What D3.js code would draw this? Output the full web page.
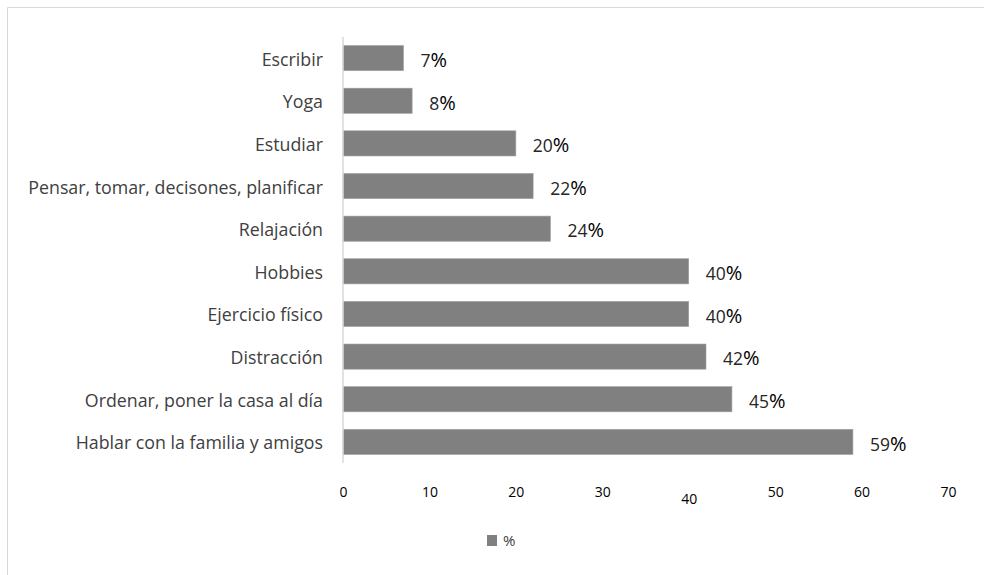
<!DOCTYPE html>
<html>
<head>
<meta charset="utf-8">
<script src="https://cdn.jsdelivr.net/npm/d3@7"></script>
<style>
  body { margin: 0; background: #fff; }
  text { font-family: "Open Sans", sans-serif; }
</style>
</head>
<body>
<svg></svg>
<script>
var screen = {width: 984, height: 575}
var margins = {top: 37, right: 36, bottom: 112, left: 343}

// data
var categories = ["Escribir", "Yoga", "Estudiar", "Pensar, tomar, decisones, planificar",
    "Relajación", "Hobbies", "Ejercicio físico", "Distracción",
    "Ordenar, poner la casa al día", "Hablar con la familia y amigos"]
var values = [7, 8, 20, 22, 24, 40, 40, 42, 45, 59]
var xTicks = [0, 10, 20, 30, 40, 50, 60, 70]
var legendLabel = "%"

var svg = d3.select("svg")
    .attr("width", screen.width)
    .attr("height", screen.height)

// light frame (top and left edges visible)
svg.append("line")
    .attr("x1", 7.5).attr("x2", screen.width).attr("y1", 7.5).attr("y2", 7.5)
    .attr("stroke", "#d9d9d9")
svg.append("line")
    .attr("x1", 7.5).attr("x2", 7.5).attr("y1", 7.5).attr("y2", screen.height)
    .attr("stroke", "#d9d9d9")

var width = 948 - margins.left
var height = 463 - margins.top

var xScale = d3.scaleLinear()
    .domain([0, 70])
    .range([0, width])

var yScale = d3.scaleBand()
    .domain(categories)
    .range([0, height])
    .paddingInner(0.41)
    .paddingOuter(0.2)

var graph = svg.append("g")
    .attr("id", "graph")
    .attr("transform", "translate(" + margins.left + "," + margins.top + ")")

var rows = categories.map(function(c, i) { return {name: c, value: values[i]} })

graph.selectAll("rect")
    .data(rows)
    .enter()
    .append("rect")
    .attr("x", 0)
    .attr("y", function(d) { return yScale(d.name) })
    .attr("width", function(d) { return xScale(d.value) })
    .attr("height", yScale.bandwidth())
    .attr("fill", "#808080")
    .attr("stroke", "#a0a0a0")
    .attr("stroke-width", 0.6)

// value labels: digits a bit smaller than the % sign, as in the original
var vl = graph.selectAll(".vlabel")
    .data(rows)
    .enter()
    .append("text")
    .attr("class", "vlabel")
    .attr("x", function(d) { return xScale(d.value) + 17 })
    .attr("y", function(d) { return yScale(d.name) + yScale.bandwidth() / 2 })
    .attr("dy", "0.5em")
    .attr("fill", "#262626")
    .style("font-size", "17.5px")
vl.append("tspan").text(function(d) { return d.value })
vl.append("tspan").style("font-size", "20px").attr("fill", "#000").text("%")

// category axis
var yAxis = d3.axisLeft(yScale).tickSize(0).tickPadding(20)
var yg = graph.append("g").attr("id", "yAxis").call(yAxis)
yg.select(".domain").attr("stroke", "#d9d9d9").attr("stroke-width", 1.5)
    .attr("d", "M0,0V" + height)
yg.selectAll("text")
    .style("font-size", "17.8px")
    .attr("fill", "#404040")
    .attr("dy", "0.42em")
    .style("font-family", "'Open Sans', sans-serif")

// value axis, labels only
var xAxis = d3.axisBottom(xScale).tickValues(xTicks).tickSize(0).tickPadding(0)
var xg = graph.append("g").attr("id", "xAxis")
    .attr("transform", "translate(0," + (height + 24) + ")")
    .call(xAxis)
xg.select(".domain").remove()
xg.selectAll("text")
    .style("font-size", "14px")
    .attr("fill", "#000")
    .style("font-family", "'Open Sans', sans-serif")
    .attr("dy", function(d) { return d === 40 ? "1.2em" : "0.71em" })

// legend
var legend = svg.append("g").attr("id", "legend")
    .attr("transform", "translate(487,535)")
legend.append("rect").attr("width", 10).attr("height", 11).attr("fill", "#808080")
legend.append("text")
    .attr("x", 16).attr("y", 6).attr("dy", "0.36em")
    .attr("fill", "#404040")
    .style("font-size", "15px")
    .text(legendLabel)
</script>
</body>
</html>
